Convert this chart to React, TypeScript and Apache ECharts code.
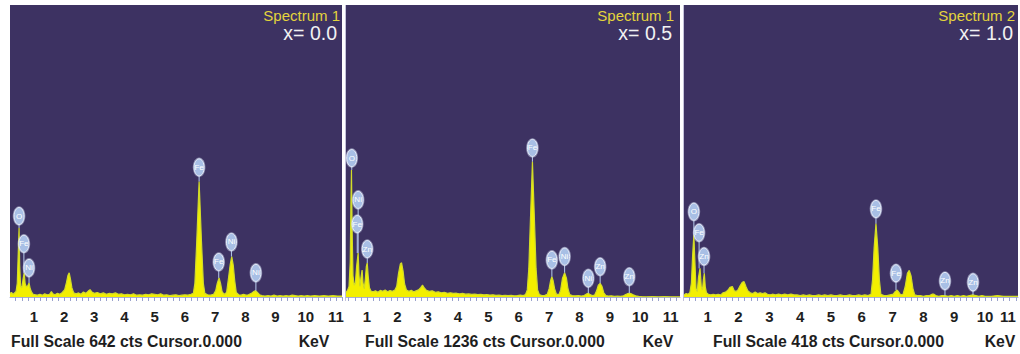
import React, { useEffect, useRef } from "react";
import * as echarts from "echarts";

const FONT = '"Liberation Sans", Arial, Helvetica, sans-serif';

// ---------- data ----------
const tickLabels = [1, 2, 3, 4, 5, 6, 7, 8, 9, 10, 11];
const spectrumNames = ["Spectrum 1", "Spectrum 1", "Spectrum 2"];
const compositions = ["x= 0.0", "x= 0.5", "x= 1.0"];
const fullScaleCts = [642, 1236, 418];

// [keV, counts]
const spectrum1 = [
  [0.21, 8], [0.26, 10], [0.31, 6], [0.36, 9], [0.41, 12], [0.45, 30], [0.48, 90], [0.51, 152], [0.53, 70], [0.56, 24],
  [0.6, 20], [0.64, 38], [0.68, 53], [0.71, 30], [0.75, 22], [0.8, 25], [0.84, 31], [0.88, 18], [0.93, 10], [0.98, 6],
  [1.05, 5], [1.12, 4], [1.2, 6], [1.28, 4], [1.36, 7], [1.44, 5], [1.52, 6], [1.58, 12], [1.63, 7], [1.7, 5],
  [1.78, 8], [1.86, 6], [1.94, 10], [2.02, 16], [2.08, 32], [2.13, 48], [2.17, 53], [2.21, 40], [2.26, 20], [2.32, 9],
  [2.4, 7], [2.48, 9], [2.56, 6], [2.64, 11], [2.72, 8], [2.8, 13], [2.86, 16], [2.92, 11], [3.0, 8], [3.1, 10],
  [3.2, 7], [3.3, 9], [3.4, 6], [3.5, 8], [3.6, 7], [3.7, 9], [3.8, 6], [3.9, 7], [4.0, 5], [4.1, 6],
  [4.2, 5], [4.3, 7], [4.4, 4], [4.5, 5], [4.6, 4], [4.7, 6], [4.8, 5], [4.9, 7], [5.0, 6], [5.1, 5],
  [5.2, 7], [5.3, 4], [5.4, 5], [5.5, 3], [5.6, 4], [5.7, 5], [5.8, 3], [5.9, 4], [6.0, 5], [6.1, 4],
  [6.2, 6], [6.28, 8], [6.33, 30], [6.39, 120], [6.47, 254], [6.55, 120], [6.61, 30], [6.66, 8], [6.75, 5], [6.85, 4],
  [6.95, 6], [7.02, 14], [7.07, 30], [7.13, 42], [7.18, 30], [7.23, 12], [7.3, 6], [7.38, 10], [7.44, 40], [7.5, 72],
  [7.55, 89], [7.6, 70], [7.65, 35], [7.7, 10], [7.78, 5], [7.86, 4], [7.94, 6], [8.02, 4], [8.1, 5], [8.2, 8],
  [8.28, 12], [8.34, 14], [8.4, 10], [8.47, 5], [8.55, 3], [8.65, 2], [8.75, 3], [8.85, 2], [8.95, 4], [9.05, 2],
  [9.15, 3], [9.25, 2], [9.35, 3], [9.45, 2], [9.55, 4], [9.65, 3], [9.75, 2], [9.85, 3], [9.95, 2], [10.05, 3],
  [10.15, 2], [10.3, 3], [10.45, 2], [10.6, 3], [10.75, 2], [10.9, 3], [11.05, 2], [11.2, 2],
];

const spectrum2 = [
  [0.31, 20], [0.36, 28], [0.41, 45], [0.45, 150], [0.47, 380], [0.49, 538], [0.51, 300], [0.54, 90], [0.58, 50], [0.62, 60],
  [0.66, 130], [0.71, 186], [0.74, 90], [0.77, 45], [0.8, 80], [0.84, 114], [0.87, 60], [0.91, 35], [0.95, 80], [0.98, 130],
  [1.01, 144], [1.04, 90], [1.08, 40], [1.13, 25], [1.2, 22], [1.28, 26], [1.36, 20], [1.44, 28], [1.52, 24], [1.6, 30],
  [1.68, 22], [1.76, 27], [1.84, 24], [1.92, 30], [1.98, 45], [2.04, 100], [2.1, 140], [2.14, 145], [2.19, 110], [2.24, 55],
  [2.3, 30], [2.38, 24], [2.46, 28], [2.54, 22], [2.62, 26], [2.7, 30], [2.77, 40], [2.83, 50], [2.89, 38], [2.96, 28],
  [3.05, 24], [3.15, 26], [3.25, 20], [3.35, 22], [3.45, 18], [3.55, 20], [3.65, 16], [3.75, 18], [3.85, 15], [3.95, 16],
  [4.05, 13], [4.15, 15], [4.25, 12], [4.35, 13], [4.45, 11], [4.55, 12], [4.65, 10], [4.75, 11], [4.85, 9], [4.95, 10],
  [5.05, 8], [5.15, 9], [5.25, 7], [5.35, 8], [5.45, 6], [5.55, 7], [5.65, 6], [5.75, 7], [5.85, 5], [5.95, 6],
  [6.05, 8], [6.15, 6], [6.22, 10], [6.28, 30], [6.33, 120], [6.39, 350], [6.45, 573], [6.51, 350], [6.57, 120], [6.62, 30],
  [6.68, 10], [6.76, 6], [6.86, 7], [6.94, 12], [7.0, 35], [7.05, 70], [7.09, 86], [7.13, 70], [7.18, 35], [7.24, 12],
  [7.32, 10], [7.38, 30], [7.44, 80], [7.51, 103], [7.57, 80], [7.62, 35], [7.68, 10], [7.76, 6], [7.86, 5], [7.96, 6],
  [8.06, 4], [8.15, 6], [8.22, 12], [8.29, 16], [8.35, 10], [8.42, 6], [8.5, 8], [8.56, 25], [8.62, 50], [8.68, 58],
  [8.74, 45], [8.8, 18], [8.87, 6], [8.95, 4], [9.05, 5], [9.15, 3], [9.25, 4], [9.35, 3], [9.45, 5], [9.52, 10],
  [9.58, 14], [9.64, 16], [9.7, 14], [9.77, 9], [9.85, 5], [9.95, 3], [10.05, 2], [10.2, 1], [10.4, 2], [10.6, 1],
  [10.8, 2], [11.0, 1], [11.31, 1],
];

const spectrum3 = [
  [0.23, 3], [0.3, 5], [0.36, 4], [0.42, 6], [0.47, 20], [0.51, 60], [0.55, 89], [0.58, 55], [0.62, 12], [0.66, 8],
  [0.7, 28], [0.75, 41], [0.79, 15], [0.83, 10], [0.86, 25], [0.89, 34], [0.92, 15], [0.96, 6], [1.02, 4], [1.1, 3],
  [1.18, 4], [1.26, 3], [1.34, 4], [1.42, 3], [1.5, 6], [1.58, 7], [1.66, 10], [1.72, 14], [1.8, 15], [1.86, 9],
  [1.92, 8], [1.98, 10], [2.05, 16], [2.12, 21], [2.18, 22], [2.24, 15], [2.3, 9], [2.38, 6], [2.46, 5], [2.54, 7],
  [2.62, 5], [2.7, 6], [2.78, 5], [2.86, 6], [2.94, 4], [3.02, 3], [3.1, 4], [3.2, 3], [3.3, 4], [3.4, 3],
  [3.5, 4], [3.6, 3], [3.7, 4], [3.8, 3], [3.9, 3], [4.0, 2], [4.1, 3], [4.2, 2], [4.3, 3], [4.4, 2],
  [4.5, 2], [4.6, 3], [4.7, 2], [4.8, 3], [4.9, 2], [5.0, 3], [5.1, 2], [5.2, 2], [5.3, 3], [5.4, 2],
  [5.5, 2], [5.6, 3], [5.7, 2], [5.8, 2], [5.9, 3], [6.0, 2], [6.1, 3], [6.2, 2], [6.3, 4], [6.35, 25],
  [6.4, 70], [6.46, 105], [6.52, 70], [6.57, 25], [6.62, 4], [6.72, 2], [6.82, 2], [6.92, 3], [7.02, 4], [7.09, 8],
  [7.15, 10], [7.2, 7], [7.26, 3], [7.34, 4], [7.41, 15], [7.48, 34], [7.54, 38], [7.6, 30], [7.66, 12], [7.72, 3],
  [7.8, 2], [7.9, 2], [8.0, 1], [8.1, 2], [8.2, 2], [8.28, 4], [8.34, 4], [8.4, 2], [8.5, 1], [8.6, 2],
  [8.7, 2], [8.8, 1], [8.9, 2], [9.0, 1], [9.1, 2], [9.2, 1], [9.3, 2], [9.4, 1], [9.5, 2], [9.6, 3],
  [9.7, 2], [9.8, 1], [9.9, 2], [10.0, 1], [10.2, 1], [10.4, 2], [10.6, 1], [10.8, 1], [11.07, 1],
];

// [element, keV, label height (cts), peak top (cts)]
const peakLabels1 = [
  ["O", 0.51, 178, 152],
  ["Fe", 0.67, 117, 53],
  ["Ni", 0.84, 64, 31],
  ["Fe", 6.47, 285, 254],
  ["Fe", 7.12, 77, 42],
  ["Ni", 7.54, 121, 89],
  ["Ni", 8.35, 53, 14],
];
const peakLabels2 = [
  ["O", 0.5, 588, 538],
  ["Ni", 0.71, 411, 186],
  ["Fe", 0.68, 309, 186],
  ["Zn", 1.01, 203, 144],
  ["Fe", 6.45, 631, 573],
  ["Fe", 7.09, 157, 86],
  ["Ni", 7.51, 171, 103],
  ["Ni", 8.29, 79, 16],
  ["Zn", 8.68, 128, 58],
  ["Zn", 9.64, 86, 16],
];
const peakLabels3 = [
  ["O", 0.55, 122, 89],
  ["Fe", 0.72, 92, 41],
  ["Zn", 0.88, 58, 34],
  ["Fe", 6.46, 126, 105],
  ["Fe", 7.11, 34, 10],
  ["Zn", 8.7, 23, 2],
  ["Zn", 9.61, 21, 3],
];

const spectra = [spectrum1, spectrum2, spectrum3];
const peakLabels = [peakLabels1, peakLabels2, peakLabels3];

// ---------- layout ----------
const PANELS = [
  { left: 10, right: 342, min: 0.21, max: 11.2, titleRight: 340, xRight: 337, fsLeft: 11, kevX: 314 },
  { left: 346, right: 680, min: 0.31, max: 11.31, titleRight: 674, xRight: 672, fsLeft: 365, kevX: 658 },
  { left: 684, right: 1018, min: 0.23, max: 11.07, titleRight: 1015, xRight: 1013, fsLeft: 713, kevX: 1000 },
];
const TOP = 5;
const PLOT_H = 292;
const BG = "#3d3262";
const RX = 5;
const RY = 8.5;

function buildOption() {
  const grid: any[] = [];
  const xAxis: any[] = [];
  const yAxis: any[] = [];
  const series: any[] = [];
  const graphic: any[] = [];

  PANELS.forEach((p, i) => {
    const ticks: number[] = [];
    for (let v = 0.4; v <= p.max + 1e-9; v += 0.2) ticks.push(Math.round(v * 10) / 10);

    grid.push({ left: p.left, top: TOP, width: p.right - p.left, height: PLOT_H, containLabel: false });
    xAxis.push({
      type: "value",
      gridIndex: i,
      min: p.min,
      max: p.max,
      offset: 2,
      axisLine: { show: true, lineStyle: { color: "#aab0d4", width: 1 } },
      axisTick: { show: true, customValues: ticks, length: 4, inside: false, lineStyle: { color: "#9aa2cc", width: 1 } },
      axisLabel: {
        customValues: tickLabels,
        color: "#1e1e1e",
        fontSize: 15,
        fontWeight: "bold",
        fontFamily: FONT,
        margin: 10,
        alignMaxLabel: i === 2 ? "right" : null,
        showMinLabel: true,
        showMaxLabel: true,
      },
      splitLine: { show: false },
    });
    yAxis.push({ type: "value", gridIndex: i, min: 0, max: fullScaleCts[i], show: false });

    series.push({
      type: "line",
      xAxisIndex: i,
      yAxisIndex: i,
      data: spectra[i],
      showSymbol: false,
      symbol: "none",
      smooth: false,
      lineStyle: { color: "#d2dc28", width: 1.2 },
      areaStyle: { color: "#f3ef00", opacity: 1 },
      z: 3,
    });

    const labels = peakLabels[i];
    series.push({
      type: "custom",
      xAxisIndex: i,
      yAxisIndex: i,
      clip: false,
      z: 5,
      data: labels.map((l) => [l[1], l[2], l[3]]),
      renderItem: (params: any, api: any) => {
        const item = labels[params.dataIndex];
        const c = api.coord([api.value(0), api.value(1)]);
        const t = api.coord([api.value(0), api.value(2)]);
        const children: any[] = [];
        if (t[1] > c[1] + RY) {
          children.push({
            type: "line",
            shape: { x1: c[0], y1: c[1] + RY, x2: c[0], y2: t[1] },
            style: { stroke: "#b8ccee", lineWidth: 1 },
          });
        }
        children.push({
          type: "ellipse",
          shape: { cx: c[0], cy: c[1], rx: RX + 1.3, ry: RY + 1.3 },
          style: { fill: "rgba(215,228,250,0.5)" },
        });
        children.push({
          type: "ellipse",
          shape: { cx: c[0], cy: c[1], rx: RX, ry: RY },
          style: { fill: "#a8bfe5", stroke: "#e6edfb", lineWidth: 1 },
        });
        children.push({
          type: "text",
          x: c[0],
          y: c[1],
          style: {
            text: String(item[0]),
            fill: "#ffffff",
            fontSize: 8,
            fontFamily: FONT,
            align: "center",
            textAlign: "center",
            verticalAlign: "middle",
            textVerticalAlign: "middle",
          },
        });
        return { type: "group", children };
      },
    });

    // panel background
    const bgLeft = i === 0 ? p.left : p.left - 1;
    graphic.push({
      type: "rect",
      z: -10,
      shape: { x: bgLeft, y: TOP, width: p.right - bgLeft, height: PLOT_H + 1 },
      style: { fill: BG },
      silent: true,
    });
    if (i > 0) {
      graphic.push({
        type: "rect",
        z: -9,
        shape: { x: p.left - 1, y: TOP, width: 1, height: PLOT_H + 4 },
        style: { fill: "#c4c2da" },
        silent: true,
      });
    }
    graphic.push({
      type: "text",
      z: 20,
      x: p.titleRight,
      y: 15,
      style: {
        text: spectrumNames[i],
        fill: "#e4d43c",
        fontSize: 15,
        fontFamily: FONT,
        align: "right",
        textAlign: "right",
        verticalAlign: "middle",
        textVerticalAlign: "middle",
      },
    });
    graphic.push({
      type: "text",
      z: 20,
      x: p.xRight,
      y: 33,
      style: {
        text: compositions[i],
        fill: "#f2f2f2",
        fontSize: 19.5,
        fontFamily: FONT,
        align: "right",
        textAlign: "right",
        verticalAlign: "middle",
        textVerticalAlign: "middle",
      },
    });
    graphic.push({
      type: "text",
      z: 20,
      x: p.fsLeft,
      y: 341,
      style: {
        text: `Full Scale ${fullScaleCts[i]} cts Cursor.0.000`,
        fill: "#1e1e1e",
        fontSize: 15.8,
        fontWeight: "bold",
        fontFamily: FONT,
        align: "left",
        textAlign: "left",
        verticalAlign: "middle",
        textVerticalAlign: "middle",
      },
    });
    graphic.push({
      type: "text",
      z: 20,
      x: p.kevX,
      y: 341,
      style: {
        text: "KeV",
        fill: "#1e1e1e",
        fontSize: 15.8,
        fontWeight: "bold",
        fontFamily: FONT,
        align: "center",
        textAlign: "center",
        verticalAlign: "middle",
        textVerticalAlign: "middle",
      },
    });
  });

  return {
    animation: false,
    backgroundColor: "#ffffff",
    grid,
    xAxis,
    yAxis,
    series,
    graphic,
  };
}

export default function App() {
  const ref = useRef<HTMLDivElement>(null);
  useEffect(() => {
    document.body.style.margin = "0";
    if (!ref.current) return;
    const chart = echarts.init(ref.current, null, { renderer: "svg" });
    chart.setOption(buildOption() as any);
    return () => chart.dispose();
  }, []);
  return <div ref={ref} style={{ width: 1020, height: 354 }} />;
}
